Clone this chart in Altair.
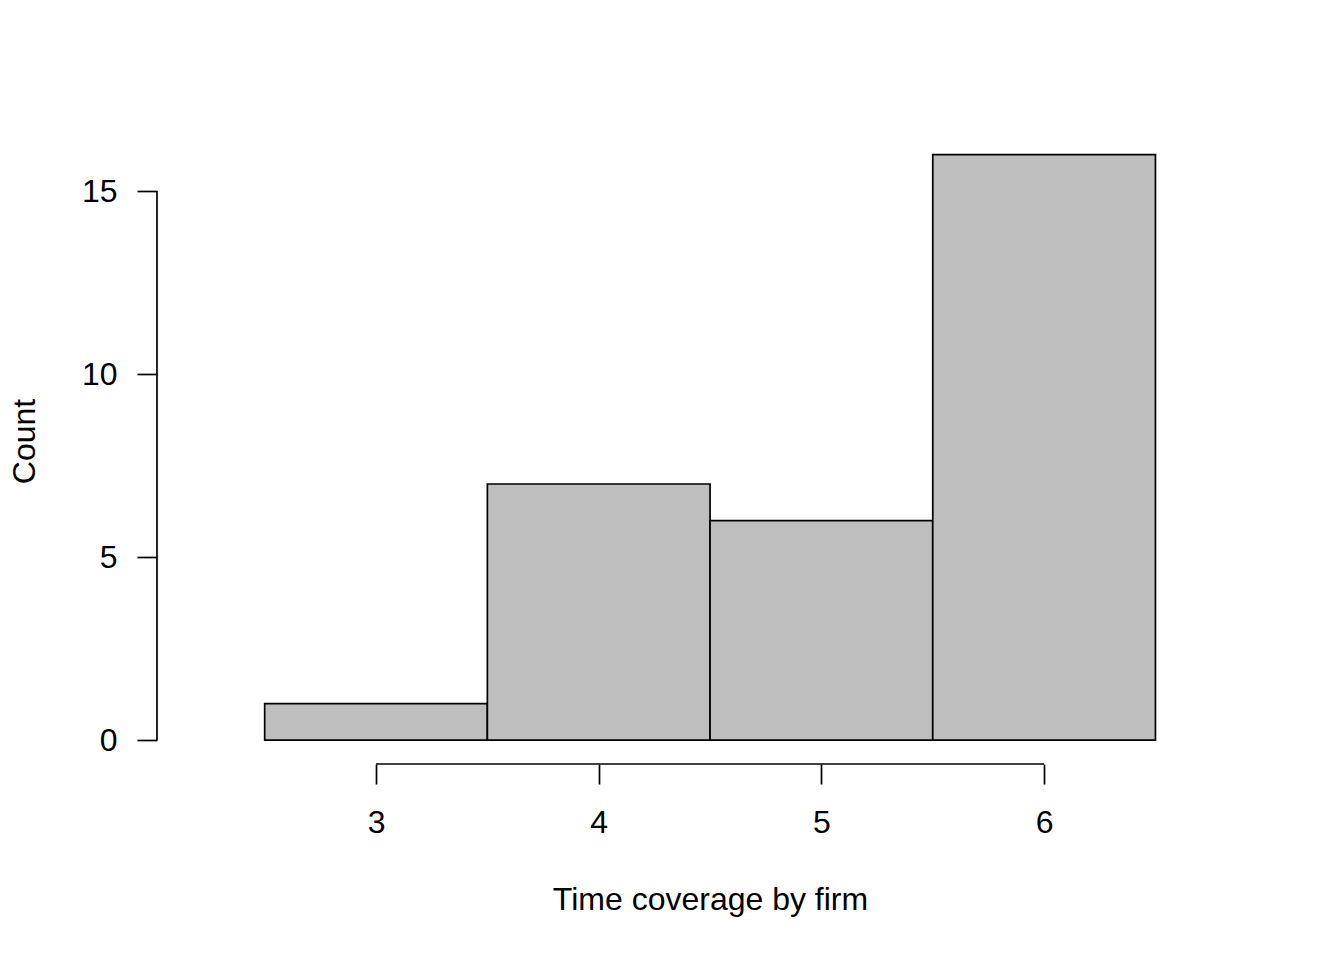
import altair as alt
import pandas as pd

# histogram bins and counts
bin_start = [2.5, 3.5, 4.5, 5.5]
bin_end = [3.5, 4.5, 5.5, 6.5]
counts = [1, 7, 6, 16]

x_ticks = [3, 4, 5, 6]
y_ticks = [0, 5, 10, 15]

W, H = 1106, 646
FONT = "Liberation Sans"
FS = 32
LW = 1.7

xdom = [2.0165, 6.983]
ydom = [-0.65, 17.0]

df = pd.DataFrame({"start": bin_start, "end": bin_end, "count": counts, "base": [0] * len(counts)})

xs = alt.Scale(domain=xdom, nice=False, zero=False)
ys = alt.Scale(domain=ydom, nice=False, zero=False)
xax = alt.Axis(values=x_ticks, format="d", title="Time coverage by firm",
               tickSize=20, labelPadding=23, titleY=145, titleBaseline="alphabetic")
yax = alt.Axis(values=y_ticks, format="d", title="Count",
               tickSize=20, labelPadding=20, titleX=-123, titleBaseline="alphabetic")

bars = alt.Chart(df).mark_rect(fill="#BEBEBE", stroke="black", strokeWidth=LW).encode(
    x=alt.X("start:Q", scale=xs, axis=xax),
    x2="end:Q",
    y=alt.Y("base:Q", scale=ys, axis=yax),
    y2="count:Q",
)

# R style axis lines: only span from first to last tick
xline = alt.Chart(pd.DataFrame({"start": [x_ticks[0]], "end": [x_ticks[-1]]})).mark_rule(
    color="black", strokeWidth=LW).encode(
    x=alt.X("start:Q", scale=xs, axis=xax), x2="end:Q", y=alt.value(H))

yline = alt.Chart(pd.DataFrame({"base": [y_ticks[0]], "count": [y_ticks[-1]]})).mark_rule(
    color="black", strokeWidth=LW).encode(
    y=alt.Y("base:Q", scale=ys, axis=yax), y2="count:Q", x=alt.value(0))

chart = alt.layer(bars, xline, yline).properties(
    width=W, height=H,
    padding={"left": 149, "top": 110, "right": 73, "bottom": 188},
    autosize=alt.AutoSizeParams(type="none"),
).configure_view(stroke=None).configure_axis(
    grid=False, domain=False, tickColor="black", tickWidth=LW,
    labelFont=FONT, labelFontSize=FS, labelColor="black",
    titleFont=FONT, titleFontSize=FS, titleColor="black", titleFontWeight="normal",
).configure_axisY(labelBaseline="middle", labelAlign="right", labelAngle=0)

chart.save("out.html", embed_options={"renderer": "svg", "actions": False})
